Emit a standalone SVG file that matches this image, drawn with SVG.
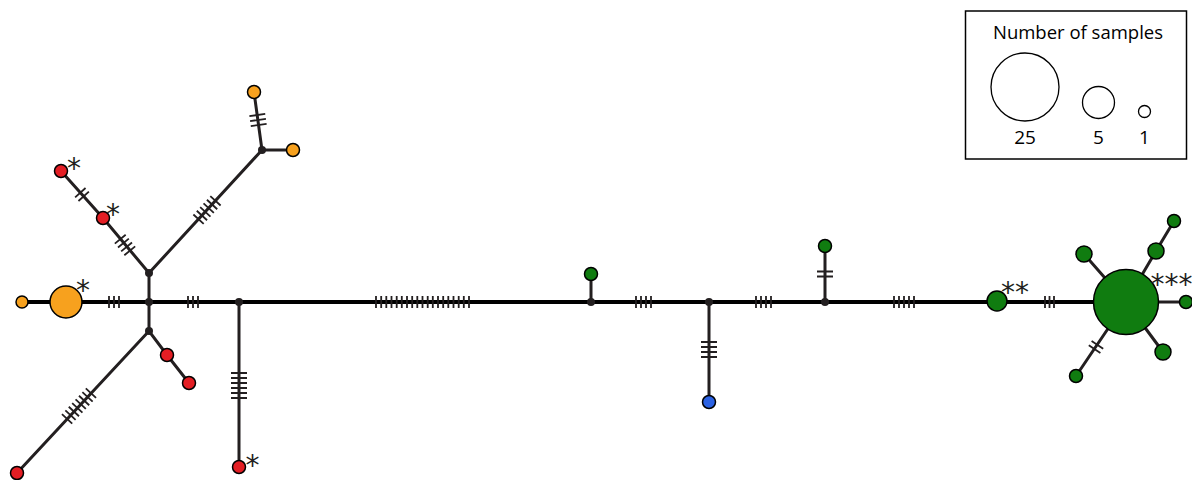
<svg xmlns="http://www.w3.org/2000/svg" width="1192" height="480" viewBox="0 0 1192 480">
  <style>
    .ln { stroke: #231f20; stroke-width: 3; fill: none; stroke-linecap: round; }
    .main { stroke: #000; stroke-width: 4; fill: none; }
    .tk { stroke: #231f20; stroke-width: 1.8; fill: none; }
    .nd { stroke: #000; stroke-width: 1.5; }
    .org { fill: #f7a11e; }
    .red { fill: #e31e24; }
    .grn { fill: #107c10; }
    .blu { fill: #2b62e3; }
    .jn { fill: #231f20; }
    .ast { font-family: "DejaVu Sans", sans-serif; font-size: 28px; fill: #231f20; text-anchor: middle; }
    .lg { font-family: "Open Sans", "Liberation Sans", sans-serif; fill: #000; text-anchor: middle; }
  </style>

  <!-- connectors -->
  <g id="connectors">
    <line class="main" x1="22" y1="302" x2="1126" y2="302"/>
    <line class="ln" x1="1126" y1="302" x2="1186" y2="302"/>
    <line class="ln" stroke-width="4" x1="149" y1="273" x2="149" y2="331"/>
    <polyline class="ln" points="61,171 103,218 149,273 262,150 254,92"/>
    <line class="ln" x1="262" y1="150" x2="293" y2="150"/>
    <polyline class="ln" points="189,383 167,355 149,331 17,473"/>
    <line class="ln" stroke-width="3.5" x1="239" y1="302" x2="239" y2="467"/>
    <line class="ln" x1="591" y1="302" x2="591" y2="274"/>
    <line class="ln" stroke-width="3.5" x1="709" y1="302" x2="709" y2="402"/>
    <line class="ln" x1="825" y1="302" x2="825" y2="246"/>
    <line class="ln" x1="1126" y1="302" x2="1084" y2="254"/>
    <polyline class="ln" points="1126,302 1156,251 1174,221"/>
    <line class="ln" x1="1126" y1="302" x2="1163" y2="352"/>
    <line class="ln" x1="1126" y1="302" x2="1076" y2="376"/>
  </g>

  <!-- mutation ticks -->
  <g id="ticks" class="tk">
    <path d="M109,296V308M114,296V308M119,296V308"/>
    <path d="M188,296V308M193,296V308M198,296V308"/>
    <path d="M376,296V308M381.2,296V308M386.3,296V308M391.5,296V308M396.7,296V308M401.8,296V308M407,296V308M412.2,296V308M417.3,296V308M422.5,296V308M427.7,296V308M432.8,296V308M438,296V308M443.2,296V308M448.3,296V308M453.5,296V308M458.7,296V308M463.8,296V308M469,296V308"/>
    <path d="M636,296V308M641,296V308M646,296V308M651,296V308"/>
    <path d="M756,296V308M761,296V308M766,296V308M771,296V308"/>
    <path d="M894,296V308M899,296V308M904,296V308M909,296V308M914,296V308"/>
    <path d="M1045,296V308M1049.5,296V308M1054,296V308"/>
    <path d="M231,373H247M231,378H247M231,383H247M231,388H247M231,393H247M231,398H247"/>
    <path d="M701,342H717M701,347H717M701,352H717M701,357H717"/>
    <path d="M817,271.5H833M817,276.5H833"/>
    <g transform="translate(82,194.5) rotate(48.2)"><path d="M-2.5,-7V7M2.5,-7V7"/></g>
    <g transform="translate(125,245) rotate(50.7)"><path d="M-7.5,-7V7M-2.5,-7V7M2.5,-7V7M7.5,-7V7"/></g>
    <g transform="translate(207,210) rotate(-47.4)"><path d="M-12.5,-7V7M-7.5,-7V7M-2.5,-7V7M2.5,-7V7M7.5,-7V7M12.5,-7V7"/></g>
    <g transform="translate(258,120) rotate(-97.9)"><path d="M-5,-8V8M0,-8V8M5,-8V8"/></g>
    <g transform="translate(79,406) rotate(132.9)"><path d="M-17.5,-7V7M-12.5,-7V7M-7.5,-7V7M-2.5,-7V7M2.5,-7V7M7.5,-7V7M12.5,-7V7M17.5,-7V7"/></g>
    <g transform="translate(1096,347) rotate(124)"><path d="M-2.5,-7V7M2.5,-7V7"/></g>
  </g>

  <!-- median vectors -->
  <g id="medians">
    <circle class="jn" cx="149" cy="302" r="4"/>
    <circle class="jn" cx="149" cy="273" r="4"/>
    <circle class="jn" cx="149" cy="331" r="4"/>
    <circle class="jn" cx="262" cy="150" r="4"/>
    <circle class="jn" cx="239" cy="302" r="4"/>
    <circle class="jn" cx="591" cy="302" r="4"/>
    <circle class="jn" cx="709" cy="302" r="4"/>
    <circle class="jn" cx="825" cy="302" r="4"/>
  </g>

  <!-- haplotypes -->
  <g id="h-orange-1"><circle class="nd org" cx="22" cy="302" r="6"/></g>
  <g id="h-orange-2"><circle class="nd org" cx="66" cy="302" r="16"/><text class="ast" x="83" y="300">*</text></g>
  <g id="h-orange-3"><circle class="nd org" cx="254" cy="92" r="6.5"/></g>
  <g id="h-orange-4"><circle class="nd org" cx="293" cy="150" r="6.5"/></g>
  <g id="h-red-1"><circle class="nd red" cx="61" cy="171" r="6.5"/><text class="ast" x="74" y="177.6">*</text></g>
  <g id="h-red-2"><circle class="nd red" cx="103" cy="218" r="6.5"/><text class="ast" x="113" y="224">*</text></g>
  <g id="h-red-3"><circle class="nd red" cx="167" cy="355" r="6.5"/></g>
  <g id="h-red-4"><circle class="nd red" cx="189" cy="383" r="6.5"/></g>
  <g id="h-red-5"><circle class="nd red" cx="17" cy="473" r="6.5"/></g>
  <g id="h-red-6"><circle class="nd red" cx="239" cy="467" r="6.5"/><text class="ast" x="252.5" y="475">*</text></g>
  <g id="h-green-1"><circle class="nd grn" cx="591" cy="274" r="6.5"/></g>
  <g id="h-blue-1"><circle class="nd blu" cx="709" cy="402" r="6.5"/></g>
  <g id="h-green-2"><circle class="nd grn" cx="825" cy="246" r="6.5"/></g>
  <g id="h-green-3"><circle class="nd grn" cx="997" cy="301" r="10"/><text class="ast" x="1015" y="301.6">**</text></g>
  <g id="h-green-4"><circle class="nd grn" cx="1126" cy="302" r="32.5"/><text class="ast" x="1171.5" y="294">***</text></g>
  <g id="h-green-5"><circle class="nd grn" cx="1084" cy="254" r="8"/></g>
  <g id="h-green-6"><circle class="nd grn" cx="1156" cy="251" r="8"/></g>
  <g id="h-green-7"><circle class="nd grn" cx="1174" cy="221" r="6.5"/></g>
  <g id="h-green-8"><circle class="nd grn" cx="1186" cy="302" r="6.5"/></g>
  <g id="h-green-9"><circle class="nd grn" cx="1163" cy="352" r="8"/></g>
  <g id="h-green-10"><circle class="nd grn" cx="1076" cy="376" r="6.5"/></g>

  <!-- legend -->
  <g id="legend">
    <rect x="965.5" y="11" width="221" height="148" fill="#fff" stroke="#000" stroke-width="1.5"/>
    <text class="lg" x="1078" y="38.5" font-size="18.5">Number of samples</text>
    <circle cx="1025" cy="87" r="34" fill="none" stroke="#000" stroke-width="1.3"/>
    <circle cx="1098.5" cy="102.5" r="16" fill="none" stroke="#000" stroke-width="1.3"/>
    <circle cx="1144.5" cy="111.5" r="6" fill="none" stroke="#000" stroke-width="1.3"/>
    <text class="lg" x="1025" y="144" font-size="19">25</text>
    <text class="lg" x="1098.5" y="144" font-size="19">5</text>
    <text class="lg" x="1144.5" y="144" font-size="19">1</text>
  </g>
</svg>
